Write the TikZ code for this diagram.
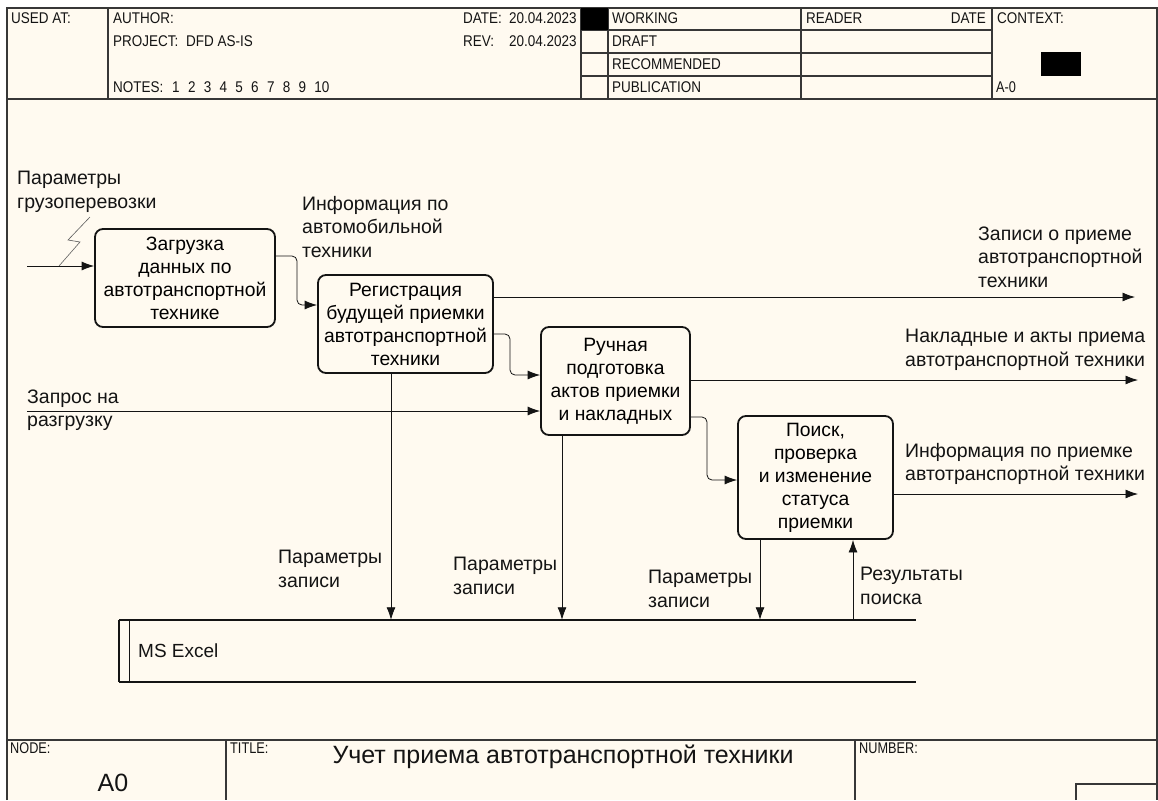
\documentclass[tikz,border=0pt]{standalone}
\usepackage{fontspec}
\setmainfont{Liberation Sans}
\newfontfamily\hdrfont[FakeStretch=0.87]{Liberation Sans}
\newfontfamily\tagfont[FakeStretch=0.82]{Liberation Sans}
\usetikzlibrary{arrows.meta}
\definecolor{paper}{RGB}{255,250,240}
\definecolor{ink}{RGB}{20,20,20}

\begin{document}
\begin{tikzpicture}[x=1pt,y=-1pt,
  func/.style={draw=ink, line width=1.8pt, rounded corners=8pt, fill=paper,
    align=center, inner sep=0pt, font=\fontsize{19.3}{23}\selectfont},
  lbl/.style={anchor=west, align=left, inner sep=0pt, text=ink,
    font=\fontsize{19.5}{23.5}\selectfont},
  flow/.style={draw=ink, line width=0.8pt, -{Latex[length=12.5pt,width=9pt]}},
  bentflow/.style={flow, rounded corners=5pt},
  frame/.style={draw=ink!85, line width=1.2pt},
  hdr/.style={anchor=base west, inner sep=0pt, text=ink,
    font=\hdrfont\fontsize{15.5}{17}\selectfont},
  hdrsmall/.style={hdr, font=\tagfont\fontsize{15.5}{17}\selectfont},
]
\useasboundingbox (0,0) rectangle (1158,800);
\fill[paper] (7,8) rectangle (1157,800);

% ---------- header block ----------
\draw[frame] (7,800) -- (7,8) -- (1157,8) -- (1157,800);
\draw[frame] (7,99) -- (1157,99);
\draw[frame] (108,8) -- (108,99);
\draw[frame] (581,8) -- (581,99);
\draw[frame] (608,8) -- (608,99);
\draw[frame] (801,8) -- (801,99);
\draw[frame] (992,8) -- (992,99);
\foreach \yy in {30,53,76} \draw[frame] (581,\yy) -- (992,\yy);
\fill[black] (581,8) rectangle (608,30);
\fill[black] (1041,52) rectangle (1081,76);

\node[hdr] (usedat) at (11,23.5) {USED AT:};
\node[hdr] (author) at (113,23.5) {AUTHOR:};
\node[hdr] (project) at (113,46) {PROJECT:};
\node[hdr] (projname) at (186,46) {DFD AS-IS};
\node[hdr] (notes) at (113,92.5) {NOTES:};
\foreach \n [count=\i from 0] in {1,2,3,4,5,6,7,8,9,10}
  \node[hdr] (note\n) at (172+15.8*\i,92.5) {\n};
\node[hdr] (date) at (463,23.5) {DATE:};
\node[hdr] (dateval) at (509,23.5) {20.04.2023};
\node[hdr] (rev) at (463,46) {REV:};
\node[hdr] (revval) at (509,46) {20.04.2023};
\node[hdr] (working) at (612,23.5) {WORKING};
\node[hdr] (draft) at (612,46.5) {DRAFT};
\node[hdr] (recommended) at (612,69.5) {RECOMMENDED};
\node[hdr] (publication) at (612,92.5) {PUBLICATION};
\node[hdr] (reader) at (806,23.5) {READER};
\node[hdr, anchor=base east] (rdate) at (986,23.5) {DATE};
\node[hdr] (context) at (997,23.5) {CONTEXT:};
\node[hdrsmall] (ctxnode) at (996,92.5) {A-0};

% ---------- footer block ----------
\draw[frame] (7,740) -- (1157,740);
\draw[frame] (226,740) -- (226,800);
\draw[frame] (855,740) -- (855,800);
\draw[frame] (1076,800) -- (1076,784) -- (1157,784);
\node[hdrsmall] (nodelbl) at (10,753) {NODE:};
\node[hdrsmall] (titlelbl) at (230,753) {TITLE:};
\node[hdrsmall] (numberlbl) at (859,753) {NUMBER:};
\node[anchor=base, inner sep=0pt, text=ink, font=\fontsize{25}{27}\selectfont]
  (title) at (563,763) {Учет приема автотранспортной техники};
\node[anchor=base, inner sep=0pt, text=ink, font=\fontsize{25}{27}\selectfont]
  (nodenum) at (113,791) {A0};

% ---------- activity boxes ----------
\node[func, minimum width=180pt, minimum height=98pt] (b1) at (185,278)
  {Загрузка\\данных по\\автотранспортной\\технике};
\node[func, minimum width=175pt, minimum height=98pt] (b2) at (405.5,324)
  {Регистрация\\будущей приемки\\автотранспортной\\техники};
\node[func, minimum width=149pt, minimum height=108pt] (b3) at (615.5,381)
  {Ручная\\подготовка\\актов приемки\\и накладных};
\node[func, minimum width=155pt, minimum height=123pt] (b4) at (815.5,477.5)
  {Поиск,\\проверка\\и изменение\\статуса\\приемки};

% ---------- data store ----------
\node[minimum width=797pt, minimum height=62pt, inner sep=0pt] (store) at (517.5,651) {};
\draw[ink, line width=1.7pt] (store.north west) -- (store.north east)
  (store.south west) -- (store.south east)
  (store.north west) -- (store.south west);
\draw[ink, line width=1.2pt] (store.north west) ++(11,0) -- ++(0,62);
\node[anchor=west, inner sep=0pt, text=ink, font=\fontsize{19}{22}\selectfont]
  (storename) at (138,651) {MS Excel};

% ---------- labels ----------
\node[lbl] (l1) at (17,192) {Параметры\\грузоперевозки};
\node[lbl] (l2) at (302,227) {Информация по\\автомобильной\\техники};
\node[lbl] (l3) at (978,257) {Записи о приеме\\автотранспортной\\техники};
\node[lbl] (l4) at (905,350) {Накладные и акты приема\\автотранспортной техники};
\node[lbl] (l5) at (27,410) {Запрос на\\разгрузку};
\node[lbl] (l6) at (905,464) {Информация по приемке\\автотранспортной техники};
\node[lbl] (l7) at (278,569) {Параметры\\записи};
\node[lbl] (l8) at (453,576) {Параметры\\записи};
\node[lbl] (l9) at (648,589) {Параметры\\записи};
\node[lbl] (l10) at (860,586) {Результаты\\поиска};

% ---------- connectors ----------
\coordinate (in1) at (27,266);
\coordinate (in2) at (27,411);
\coordinate (out1) at (1135,297);
\coordinate (out2) at (1138,380);
\coordinate (out3) at (1138,494);
\coordinate (bolt) at (90,217);

\draw[flow] (in1) -- (b1.west |- in1);
\draw[ink!70, line width=0.6pt] (bolt) -- (68,240) -- (80,242) -- (59,266);
\draw[flow] (in2) -- (b3.west |- in2);

\draw[bentflow] (b1.east |- 0,256) -- (297,256) -- (297,305) -- (b2.west |- 0,305);
\draw[bentflow] (b2.east |- 0,334) -- (510,334) -- (510,375) -- (b3.west |- 0,375);
\draw[bentflow] (b3.east |- 0,417) -- (707,417) -- (707,480) -- (b4.west |- 0,480);

\draw[flow] (b2.east |- out1) -- (out1);
\draw[flow] (b3.east |- out2) -- (out2);
\draw[flow] (b4.east |- out3) -- (out3);

\draw[flow] (b2.south -| 391,0) -- (store.north -| 391,0);
\draw[flow] (b3.south -| 562,0) -- (store.north -| 562,0);
\draw[flow] (b4.south -| 760,0) -- (store.north -| 760,0);
\draw[flow] (store.north -| 853,0) -- (b4.south -| 853,0);
\end{tikzpicture}
\end{document}
